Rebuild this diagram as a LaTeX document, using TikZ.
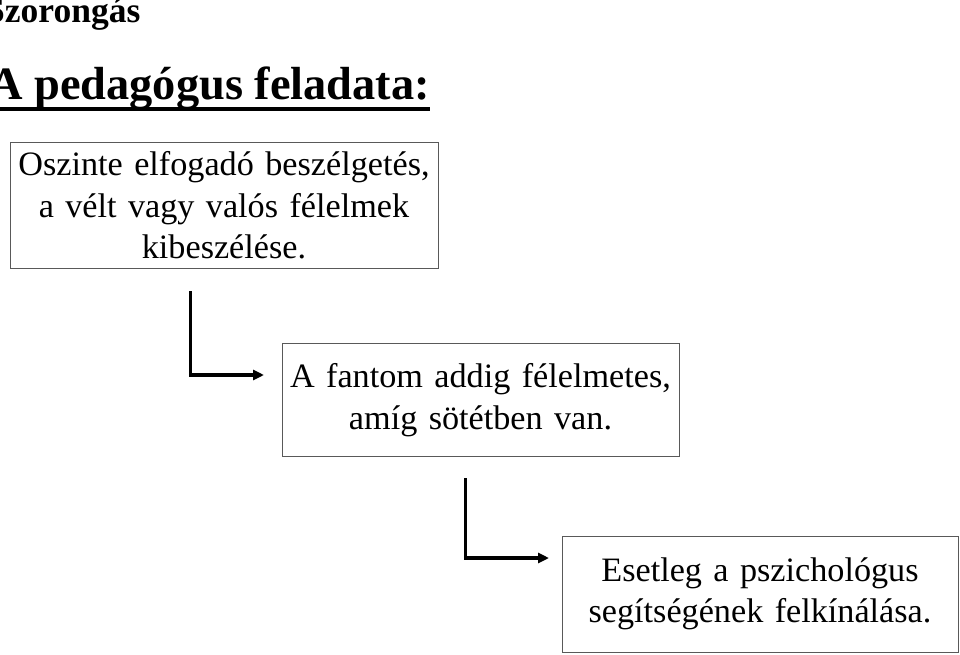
\documentclass[tikz,border=0pt]{standalone}
\usepackage{fontspec}
\setmainfont{Liberation Serif}
\usetikzlibrary{arrows.meta}
\begin{document}
\begin{tikzpicture}[x=1pt,y=-1pt,
  txtbox/.style={draw=black!65, fill=white, line width=1pt, inner sep=0pt,
    align=center, font=\fontsize{34.2}{41.5}\selectfont},
  conn/.style={line width=3.5pt, -{Triangle[length=11pt,width=10pt]}}]
\useasboundingbox (0,0) rectangle (960,655);
\node[anchor=base west, font=\fontsize{35.5}{40}\bfseries\selectfont, inner sep=0pt] (t1) at (-15,23) {Szorongás};
\node[anchor=base west, font=\fontsize{46.4}{54}\bfseries\selectfont, inner sep=0pt] (t2) at (-11,100) {A pedagógus feladata:};
\draw[line width=4pt] (0,109.5) -- (t2.east |- 0,109.5);
\node[txtbox, minimum width=428pt, minimum height=125pt, text width=428pt] (b1) at (224,205.5)
  {Oszinte elfogadó beszélgetés,\\ a vélt vagy valós félelmek\\ kibeszélése.};
\node[txtbox, minimum width=397pt, minimum height=113pt, text width=397pt] (b2) at (480.5,400)
  {A fantom addig félelmetes,\\ amíg sötétben van.};
\node[txtbox, minimum width=396pt, minimum height=116pt, text width=396pt] (b3) at (760,594)
  {Esetleg a pszichológus\\ segítségének felkínálása.};
\coordinate (a1s) at (190.5,291);
\coordinate (a1e) at (264,375);
\coordinate (a2s) at (465.5,478);
\coordinate (a2e) at (549,558);
\draw[conn] (a1s) |- (a1e);
\draw[conn] (a2s) |- (a2e);
\end{tikzpicture}
\end{document}
